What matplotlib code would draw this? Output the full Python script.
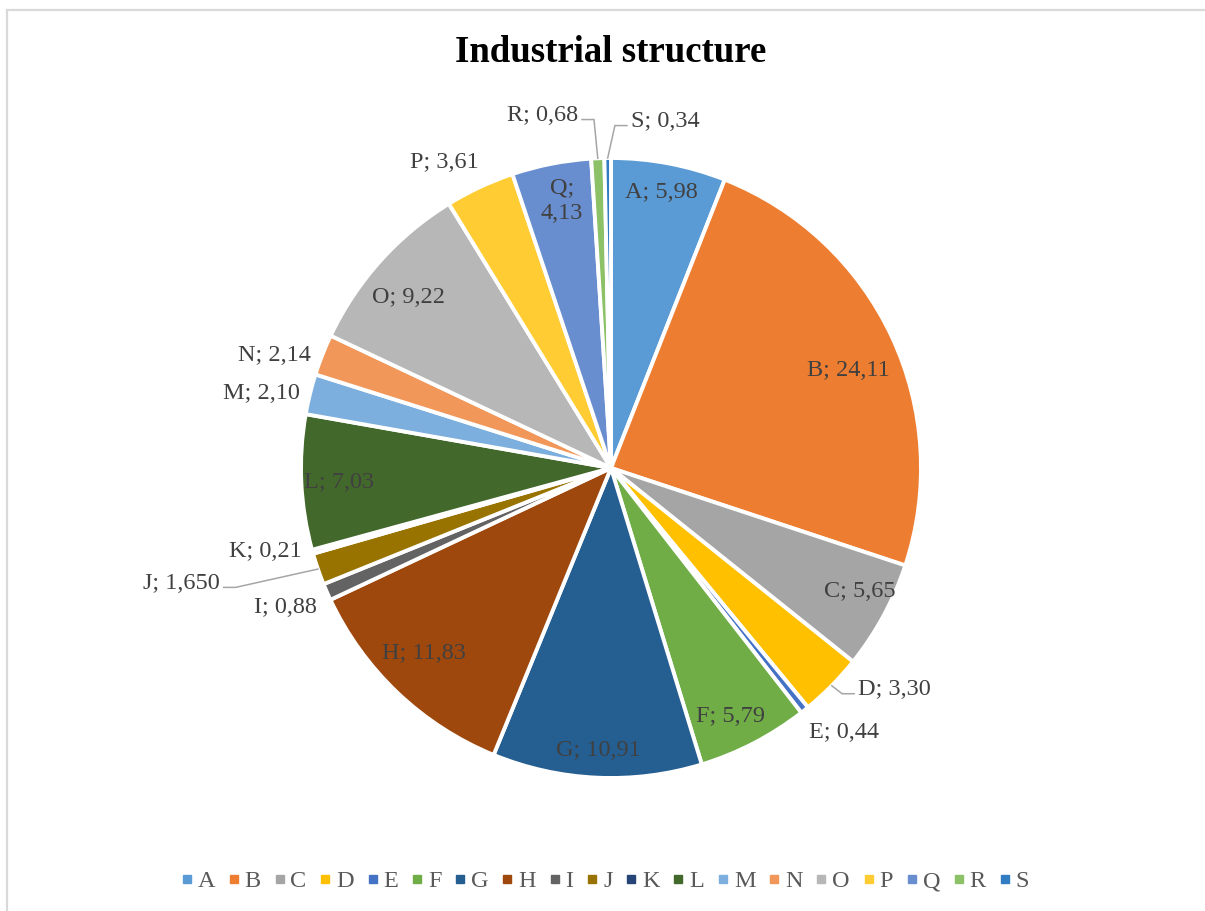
import numpy as np
import matplotlib
matplotlib.use("Agg")
import matplotlib.pyplot as plt
from matplotlib.lines import Line2D

plt.rcParams['font.family'] = ['Liberation Serif', 'DejaVu Serif']

# industry shares, %
categories = ['A', 'B', 'C', 'D', 'E', 'F', 'G', 'H', 'I', 'J',
              'K', 'L', 'M', 'N', 'O', 'P', 'Q', 'R', 'S']
values = [5.98, 24.11, 5.65, 3.30, 0.44, 5.79, 10.91, 11.83, 0.88, 1.650,
          0.21, 7.03, 2.10, 2.14, 9.22, 3.61, 4.13, 0.68, 0.34]
decimals = [2, 2, 2, 2, 2, 2, 2, 2, 2, 3, 2, 2, 2, 2, 2, 2, 2, 2, 2]

colors = ['#5B9BD5', '#ED7D31', '#A5A5A5', '#FFC000', '#4472C4', '#70AD47',
          '#255E91', '#9E480E', '#636363', '#997300', '#264478', '#43682B',
          '#7CAFDD', '#F1975A', '#B7B7B7', '#FFCD33', '#698ED0', '#8CC168',
          '#327DC2']

# label placement: radius (px), clockwise nudge (deg), alignment, leader line
label_pos = {
    'A': (280, -0.5, 'center', False),
    'B': (257, 2.7, 'center', False),
    'C': (278, -2.2, 'center', False),
    'D': (332, -2.7, 'left', True),
    'E': (352, -2.7, 'center', False),
    'F': (276, 1.7, 'center', False),
    'G': (283, 0.0, 'center', False),
    'H': (264, 1.7, 'center', False),
    'I': (354, 0.3, 'center', False),
    'J': (408, 2.6, 'right', True),
    'K': (356, 2.1, 'center', False),
    'L': (272, -0.4, 'center', False),
    'M': (357, -1.7, 'center', False),
    'N': (355, -2.9, 'center', False),
    'O': (265, -1.8, 'center', False),
    'P': (348, -3.5, 'center', False),
    'Q': (272, 0.7, 'center', False),
    'R': (354, -2.9, 'right', True),
    'S': (347, 3.9, 'left', True),
}

W, H = 1205, 911
cx, cy, R = 611, H - 468, 310
text_color = '#404040'

fig = plt.figure(figsize=(W / 100, H / 100), dpi=100)
ax = fig.add_axes([0, 0, 1, 1])

wedges, _ = ax.pie(values, colors=colors, startangle=90, counterclock=False,
                   center=(cx, cy), radius=R,
                   wedgeprops=dict(edgecolor='white', linewidth=2.8))
ax.set_xlim(0, W)
ax.set_ylim(0, H)
ax.set_aspect('equal')
ax.axis('off')

for w, cat, v, d in zip(wedges, categories, values, decimals):
    r, nudge, ha, leader = label_pos[cat]
    mid = np.deg2rad((w.theta1 + w.theta2) / 2)
    ang = mid - np.deg2rad(nudge)
    tx, ty = cx + r * np.cos(ang), cy + r * np.sin(ang)
    num = f"{v:.{d}f}".replace('.', ',')
    txt = f"{cat};\n{num}" if cat == 'Q' else f"{cat}; {num}"
    ax.text(tx, ty, txt, ha=ha, va='center', fontsize=17.5, color=text_color,
            linespacing=1.3)
    if leader:
        ex, ey = cx + R * np.cos(mid), cy + R * np.sin(mid)
        side = 1 if ha == 'right' else -1
        x0 = tx + side * 4
        x1 = x0 + side * 12
        ly = ty - 4
        ax.plot([x0, x1, ex], [ly, ly, ey], color='#A6A6A6', lw=1.1,
                solid_joinstyle='miter')

ax.text(611, H - 53, 'Industrial structure', ha='center', va='center',
        fontsize=26.5, fontweight='bold', color='black')

# chart frame
ax.plot([7, 7, W], [0, H - 10, H - 10], color='#D9D9D9', lw=1.6,
        solid_joinstyle='miter', clip_on=False)

handles = [Line2D([], [], marker='s', linestyle='none', markersize=5.4,
                  markerfacecolor=c, markeredgecolor=c) for c in colors]
fig.legend(handles, categories, loc='center', bbox_to_anchor=(606 / W, 1 - 881 / H),
           ncol=len(categories), frameon=False, fontsize=17.5, labelcolor='#595959',
           handlelength=0.3, handletextpad=0.3, columnspacing=0.62, borderaxespad=0)

fig.savefig('out.png', dpi=100)
